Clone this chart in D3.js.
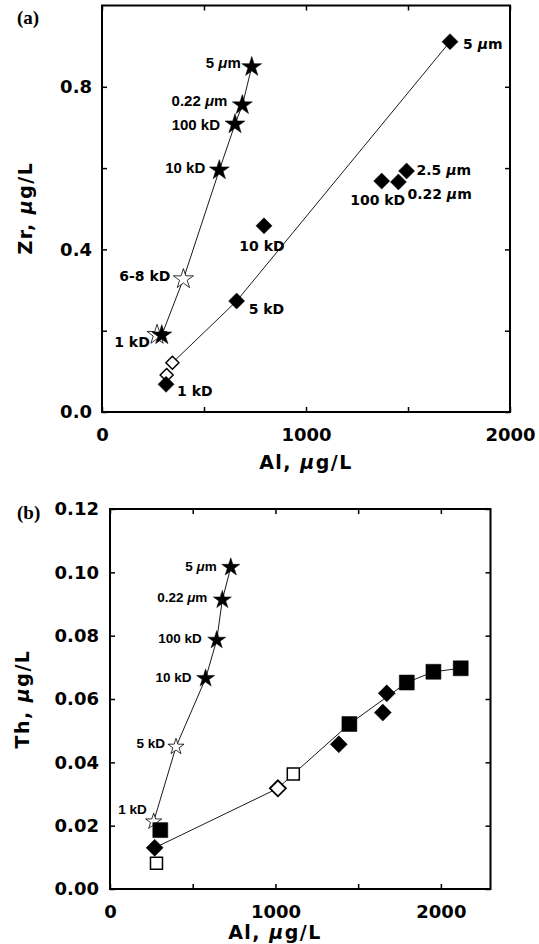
<!DOCTYPE html>
<html>
<head>
<meta charset="utf-8">
<script src="https://cdn.jsdelivr.net/npm/d3@7"></script>
<style>
body { margin: 0; background: #fff; }
svg { display: block; }
.tick text { font-family: "DejaVu Sans", Verdana, sans-serif; font-weight: bold; font-size: 18px; fill: #000; }
.tick line { stroke: #000; stroke-width: 1.5; }
.title { font-family: "DejaVu Sans", Verdana, sans-serif; font-weight: bold; font-size: 19px; letter-spacing: 1.5px; }
.tag { font-family: "Liberation Serif", "Times New Roman", serif; font-weight: bold; font-size: 19px; }
.lab-h { font-family: "Liberation Sans", Arial, sans-serif; font-weight: bold; }
.lab-v { font-family: "DejaVu Sans", Verdana, sans-serif; font-weight: bold; }
</style>
</head>
<body>
<svg id="chart"></svg>
<script>
// ---------- panel (a): Zr vs Al ----------
var zrStarAl  = [734, 688, 652, 575, 293];
var zrStarZr  = [0.849, 0.755, 0.708, 0.595, 0.189];
var zrStarTxt = ["5 μm", "0.22 μm", "100 kD", "10 kD", "1 kD"];

var zrOpenStarAl  = [399, 270];
var zrOpenStarZr  = [0.327, 0.190];
var zrOpenStarTxt = ["6-8 kD", ""];

var zrDiaAl  = [1706, 1493, 1453, 1371, 794, 660, 314];
var zrDiaZr  = [0.911, 0.593, 0.566, 0.568, 0.458, 0.273, 0.068];
var zrDiaTxt = ["5 μm", "2.5 μm", "0.22 μm", "100 kD", "10 kD", "5 kD", "1 kD"];

var zrOpenDiaAl = [345, 317];
var zrOpenDiaZr = [0.121, 0.091];

var zrStarLine = [[293, 0.189], [399, 0.327], [575, 0.595], [652, 0.708], [688, 0.755], [734, 0.849]];
var zrDiaLine  = [[345, 0.121], [660, 0.273], [1706, 0.911]];

var zrXTicks = [0, 500, 1000, 1500, 2000];
var zrXLabels = [0, 1000, 2000];
var zrYTicks = [0, 0.2, 0.4, 0.6, 0.8];
var zrYLabels = [0, 0.4, 0.8];

// ---------- panel (b): Th vs Al ----------
var thStarAl  = [730, 679, 645, 578];
var thStarTh  = [0.1016, 0.0913, 0.0786, 0.0665];
var thStarTxt = ["5 μm", "0.22 μm", "100 kD", "10 kD"];

var thOpenStarAl  = [399, 264];
var thOpenStarTh  = [0.0449, 0.0213];
var thOpenStarTxt = ["5 kD", "1 kD"];

var thSqAl = [304, 1447, 1794, 1955, 2120];
var thSqTh = [0.0186, 0.0521, 0.0652, 0.0686, 0.0697];
var thOpenSqAl = [281, 1108];
var thOpenSqTh = [0.0081, 0.0363];
var thDiaAl = [270, 1383, 1649, 1673];
var thDiaTh = [0.0130, 0.0457, 0.0557, 0.0618];
var thOpenDiaAl = [1015];
var thOpenDiaTh = [0.0318];

var thStarLine = [[264, 0.0213], [399, 0.0449], [578, 0.0665], [645, 0.0786], [679, 0.0913], [730, 0.1016]];
var thLowLine  = [[270, 0.0130], [1015, 0.0318], [1108, 0.0363], [1447, 0.0521], [1794, 0.0652], [1955, 0.0686], [2120, 0.0697]];

var thXTicks = [0, 500, 1000, 1500, 2000];
var thXLabels = [0, 1000, 2000];
var thYTicks = [0, 0.02, 0.04, 0.06, 0.08, 0.10, 0.12];

// label placement (dx, dy, anchor, font) -- layout only
var zrStarPos = [[-11, -4, "end", "h"], [-15, -4, "end", "h"], [-15, 1, "end", "h"], [-14, -2, "end", "h"], [-12, 7, "end", "v"]];
var zrOpenStarPos = [[-13, -3, "end", "v"], [0, 0, "end", "v"]];
var zrDiaPos = [[13, 2, "start", "v"], [10, -1, "start", "v"], [9, 12, "start", "v"], [-4, 19, "middle", "v"],
                [-2, 20, "middle", "v"], [12, 8, "start", "v"], [11, 7, "start", "v"]];
var thStarPos = [[-14, -1, "end", "h"], [-15, -3, "end", "h"], [-15, -2, "end", "h"], [-14, -1, "end", "h"]];
var thOpenStarPos = [[-11, -4, "end", "h"], [-7, -12, "end", "h"]];

var svg = d3.select("#chart").attr("width", 539).attr("height", 944);

function starPath(R) {
  var r = R * 0.382, pts = [];
  for (var i = 0; i < 10; i++) {
    var a = -Math.PI / 2 + i * Math.PI / 5;
    var rr = i % 2 ? r : R;
    pts.push([rr * Math.cos(a), rr * Math.sin(a)]);
  }
  return "M" + pts.join("L") + "Z";
}
function diamondPath(h) {
  return "M0," + (-h) + "L" + h + ",0L0," + h + "L" + (-h) + ",0Z";
}
function squarePath(s) {
  return "M" + (-s) + "," + (-s) + "H" + s + "V" + s + "H" + (-s) + "Z";
}

function panel(opt) {
  var x = d3.scaleLinear().domain(opt.xDomain).range(opt.xRange);
  var y = d3.scaleLinear().domain(opt.yDomain).range(opt.yRange);
  var g = svg.append("g");
  var x0 = opt.xRange[0], x1 = opt.xRange[1], y0 = opt.yRange[0], y1 = opt.yRange[1];

  g.append("g").attr("transform", "translate(0," + y0 + ")")
    .call(d3.axisBottom(x).tickValues(opt.xTicks).tickSize(-5).tickPadding(16)
      .tickFormat(function(d) { return opt.xLabels.indexOf(d) >= 0 ? d : ""; }));
  g.append("g").attr("transform", "translate(0," + y1 + ")")
    .call(d3.axisTop(x).tickValues(opt.xTicks).tickSize(-5).tickFormat(""));
  g.append("g").attr("transform", "translate(" + x0 + ",0)")
    .call(d3.axisLeft(y).tickValues(opt.yTicks).tickSize(-5).tickPadding(opt.yPad)
      .tickFormat(function(d) { return opt.yLabels.some(function(v) { return Math.abs(v - d) < 1e-9; }) ? opt.yFmt(d) : ""; }));
  g.append("g").attr("transform", "translate(" + x1 + ",0)")
    .call(d3.axisRight(y).tickValues(opt.yTicks).tickSize(-5).tickFormat(""));
  g.selectAll(".domain").remove();

  g.append("rect").attr("x", x0).attr("y", y1).attr("width", x1 - x0).attr("height", y0 - y1)
    .attr("fill", "none").attr("stroke", "#000").attr("stroke-width", 2);

  return { g: g, x: x, y: y };
}

function drawLine(p, pts) {
  var line = d3.line().x(function(d) { return p.x(d[0]); }).y(function(d) { return p.y(d[1]); });
  p.g.append("path").datum(pts).attr("d", line)
    .attr("fill", "none").attr("stroke", "#000").attr("stroke-width", 0.9);
}

function drawMarks(p, xs, ys, path, filled, sw) {
  p.g.selectAll(null).data(d3.range(xs.length)).enter().append("path")
    .attr("transform", function(i) { return "translate(" + p.x(xs[i]) + "," + p.y(ys[i]) + ")"; })
    .attr("d", path)
    .attr("fill", filled ? "#000" : "#fff")
    .attr("stroke", "#000")
    .attr("stroke-width", sw);
}

function drawLabels(p, xs, ys, txt, pos, size) {
  txt.forEach(function(t, i) {
    if (!t) return;
    var ps = pos[i];
    var el = p.g.append("text")
      .attr("class", ps[3] == "h" ? "lab-h" : "lab-v")
      .attr("x", p.x(xs[i]) + ps[0])
      .attr("y", p.y(ys[i]) + ps[1])
      .attr("dy", "0.35em")
      .attr("text-anchor", ps[2])
      .style("font-size", (ps[3] == "h" ? size + 1 : size) + "px");
    var parts = t.split("μ");
    el.append("tspan").text(parts[0]);
    if (parts.length > 1) {
      el.append("tspan").style("font-style", "italic").text("μ");
      el.append("tspan").text(parts[1]);
    }
  });
}

function axisTitle(x, y, rot, name) {
  var t = svg.append("text").attr("class", "title")
    .attr("text-anchor", "middle")
    .attr("transform", "translate(" + x + "," + y + ")" + (rot ? " rotate(-90)" : ""));
  t.append("tspan").text(name + ", ");
  t.append("tspan").style("font-style", "italic").text("μ");
  t.append("tspan").text("g/L");
}

// ----- panel (a)
var pa = panel({
  xDomain: [0, 2000], xRange: [102, 510],
  yDomain: [0, 1.0], yRange: [412, 5.5],
  xTicks: zrXTicks, xLabels: zrXLabels,
  yTicks: zrYTicks, yLabels: zrYLabels, yFmt: d3.format(".1f"), yPad: 10
});
drawLine(pa, zrStarLine);
drawLine(pa, zrDiaLine);
drawMarks(pa, zrOpenStarAl, zrOpenStarZr, starPath(10.5), false, 0.8);
drawMarks(pa, zrStarAl, zrStarZr, starPath(10.5), true, 0.5);
drawMarks(pa, zrOpenDiaAl, zrOpenDiaZr, diamondPath(6.5), false, 1.5);
drawMarks(pa, zrDiaAl, zrDiaZr, diamondPath(8), true, 0.5);
drawLabels(pa, zrStarAl, zrStarZr, zrStarTxt, zrStarPos, 14);
drawLabels(pa, zrOpenStarAl, zrOpenStarZr, zrOpenStarTxt, zrOpenStarPos, 14);
drawLabels(pa, zrDiaAl, zrDiaZr, zrDiaTxt, zrDiaPos, 14);
axisTitle(306, 469, false, "Al");
axisTitle(32, 208, true, "Zr");
svg.append("text").attr("class", "tag").attr("x", 17).attr("y", 24).text("(a)");

// ----- panel (b)
var pb = panel({
  xDomain: [0, 2300], xRange: [110, 490.5],
  yDomain: [0, 0.12], yRange: [889, 509],
  xTicks: thXTicks, xLabels: thXLabels,
  yTicks: thYTicks, yLabels: thYTicks, yFmt: d3.format(".2f"), yPad: 11
});
drawLine(pb, thStarLine);
drawLine(pb, thLowLine);
drawMarks(pb, thOpenStarAl, thOpenStarTh, starPath(8.5), false, 0.8);
drawMarks(pb, thStarAl, thStarTh, starPath(9.5), true, 0.5);
drawMarks(pb, thOpenSqAl, thOpenSqTh, squarePath(6), false, 1.5);
drawMarks(pb, thOpenDiaAl, thOpenDiaTh, diamondPath(8), false, 1.8);
drawMarks(pb, thDiaAl, thDiaTh, diamondPath(8.5), true, 0.5);
drawMarks(pb, thSqAl, thSqTh, squarePath(7.5), true, 0.5);
drawLabels(pb, thStarAl, thStarTh, thStarTxt, thStarPos, 12.5);
drawLabels(pb, thOpenStarAl, thOpenStarTh, thOpenStarTxt, thOpenStarPos, 12.5);
axisTitle(275, 939, false, "Al");
axisTitle(29, 699, true, "Th");
svg.append("text").attr("class", "tag").attr("x", 17).attr("y", 519).text("(b)");
</script>
</body>
</html>
